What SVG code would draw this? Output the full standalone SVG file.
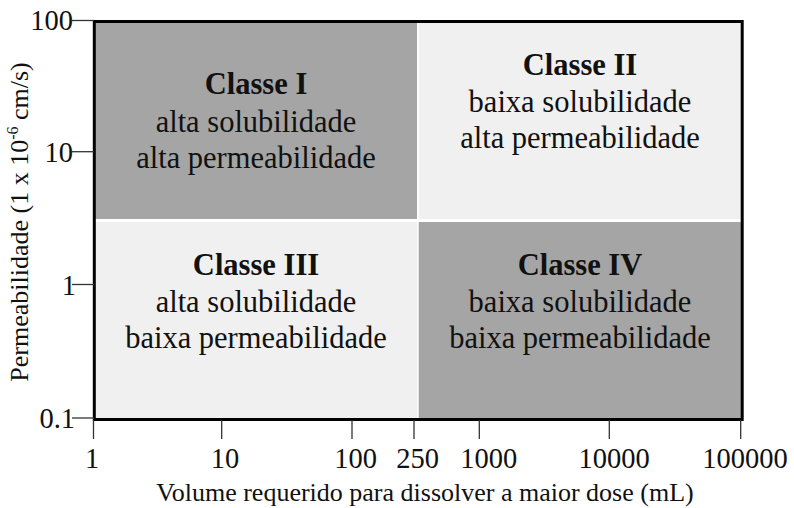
<svg xmlns="http://www.w3.org/2000/svg" width="794" height="508" viewBox="0 0 794 508">
<style>
  text { font-family: "Liberation Serif", "Times New Roman", serif; fill: #111; }
  .title { font-size: 30.5px; font-weight: bold; text-anchor: middle; }
  .body { font-size: 30.5px; text-anchor: middle; }
  .num { font-size: 28.5px; }
  .lab { font-size: 26px; text-anchor: middle; }
  .tick { stroke: #333; stroke-width: 1.3; fill: none; }
  .dark { fill: #a5a5a5; }
  .light { fill: #f0f0f0; }
</style>
<rect width="794" height="508" fill="#ffffff"/>

<g id="classe-1">
  <rect class="dark" x="95" y="22" width="322" height="197"/>
  <text class="title" x="256" y="94">Classe I</text>
  <text class="body" x="256" y="131.5">alta solubilidade</text>
  <text class="body" x="256" y="168">alta permeabilidade</text>
</g>
<g id="classe-2">
  <rect class="light" x="418.7" y="22" width="323" height="197"/>
  <text class="title" x="580" y="75">Classe II</text>
  <text class="body" x="580" y="112">baixa solubilidade</text>
  <text class="body" x="580" y="148">alta permeabilidade</text>
</g>
<g id="classe-3">
  <rect class="light" x="95" y="222" width="322.3" height="198"/>
  <text class="title" x="256" y="275">Classe III</text>
  <text class="body" x="256" y="312">alta solubilidade</text>
  <text class="body" x="256" y="348">baixa permeabilidade</text>
</g>
<g id="classe-4">
  <rect class="dark" x="418.7" y="222" width="323" height="198"/>
  <text class="title" x="580" y="275">Classe IV</text>
  <text class="body" x="580" y="312">baixa solubilidade</text>
  <text class="body" x="580" y="348">baixa permeabilidade</text>
</g>

<g id="axes">
  <rect x="94.3" y="21.5" width="647.9" height="398" fill="none" stroke="#000" stroke-width="3"/>
  <g class="ticks">
    <line class="tick" x1="72" y1="20.5" x2="94" y2="20.5"/>
    <line class="tick" x1="72" y1="151.7" x2="94" y2="151.7"/>
    <line class="tick" x1="72" y1="284.5" x2="94" y2="284.5"/>
    <line class="tick" x1="72" y1="418" x2="94" y2="418"/>
    <line class="tick" x1="93.5" y1="420" x2="93.5" y2="439"/>
    <line class="tick" x1="221.7" y1="420" x2="221.7" y2="439"/>
    <line class="tick" x1="352" y1="420" x2="352" y2="439"/>
    <line class="tick" x1="414" y1="420" x2="414" y2="439"/>
    <line class="tick" x1="479.3" y1="420" x2="479.3" y2="439"/>
    <line class="tick" x1="609.3" y1="420" x2="609.3" y2="439"/>
    <line class="tick" x1="740.7" y1="420" x2="740.7" y2="439"/>
  </g>
  <g class="num" text-anchor="end">
    <text class="num" x="73" y="30">100</text>
    <text class="num" x="73" y="162">10</text>
    <text class="num" x="76" y="295">1</text>
    <text class="num" x="75" y="428">0.1</text>
  </g>
  <g text-anchor="middle">
    <text class="num" x="92" y="468" text-anchor="middle">1</text>
    <text class="num" x="225" y="468" text-anchor="middle">10</text>
    <text class="num" x="355.5" y="468" text-anchor="middle">100</text>
    <text class="num" x="417.5" y="468" text-anchor="middle">250</text>
    <text class="num" x="488.7" y="468" text-anchor="middle">1000</text>
    <text class="num" x="614" y="468" text-anchor="middle">10000</text>
    <text class="num" x="745" y="468" text-anchor="middle">100000</text>
  </g>
  <text class="lab" x="425" y="501">Volume requerido para dissolver a maior dose (mL)</text>
  <text class="lab" transform="translate(28,222) rotate(-90)" x="0" y="0">Permeabilidade (1 x 10<tspan font-size="16" dy="-10">-6</tspan><tspan dy="10"> cm/s)</tspan></text>
</g>
</svg>
